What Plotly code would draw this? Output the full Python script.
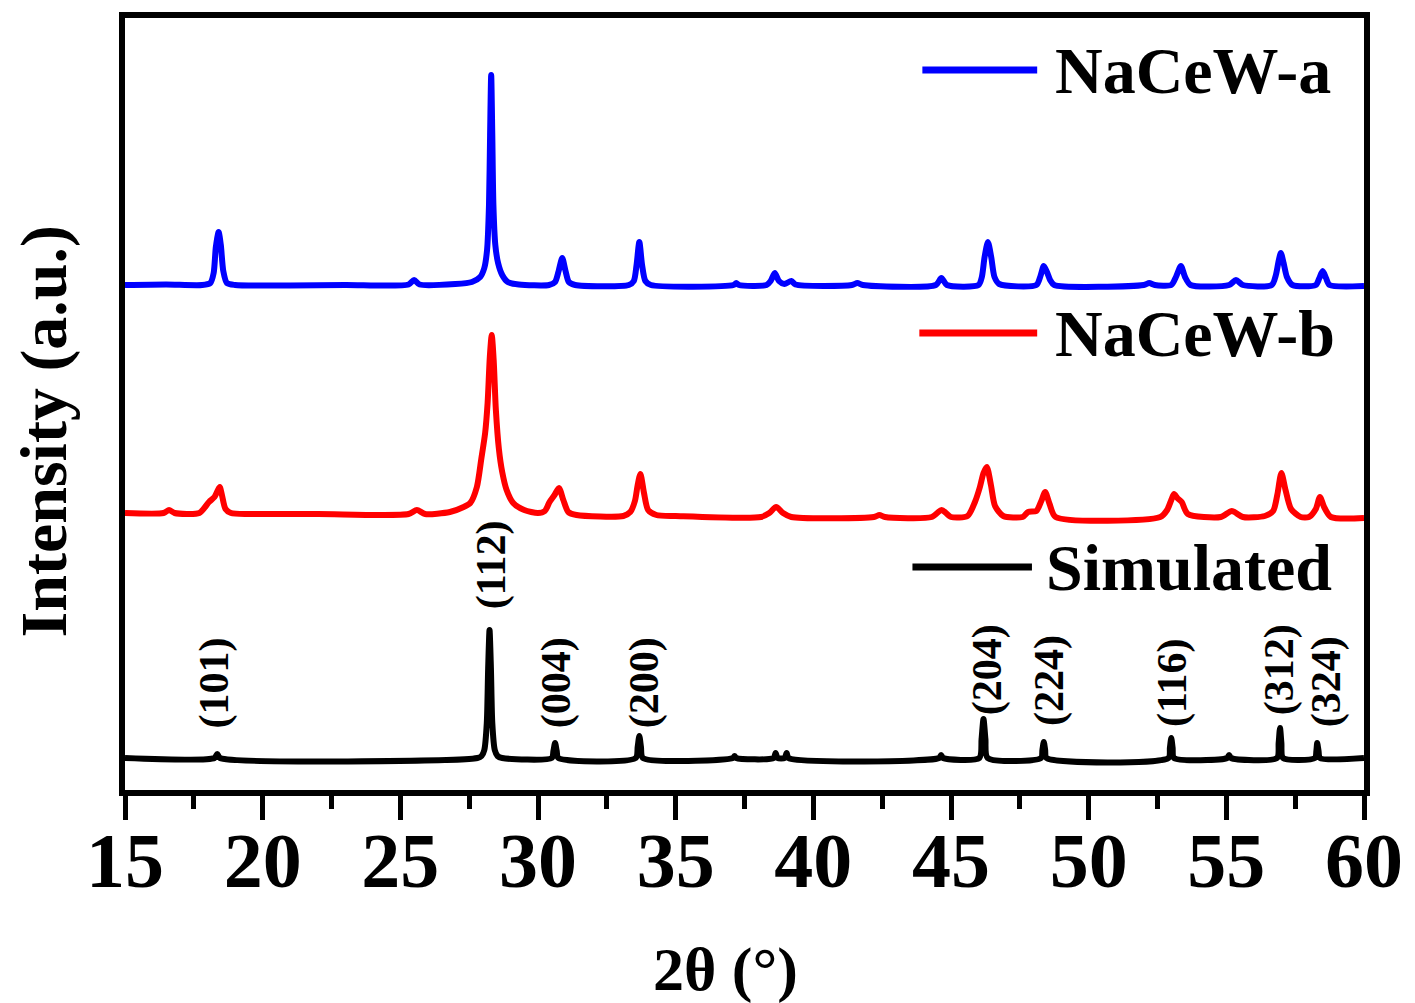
import plotly.graph_objects as go

# ---------------- data ----------------
# 2-theta (deg) and relative intensity (a.u., baseline ~0) for each pattern
blue_2theta = [15.0, 16.5, 17.8, 18.1, 18.22, 18.30, 18.40, 18.48, 18.57, 18.7, 19.0,
               21.0, 23.0, 25.3, 25.5, 25.7, 27.0, 27.6, 27.9, 28.05, 28.15, 28.22,
               28.26, 28.30, 28.34, 28.38, 28.45, 28.55, 28.7, 28.9, 29.3, 30.4,
               30.62, 30.75, 30.88, 31.0, 31.12, 31.35, 33.3, 33.48, 33.58, 33.68,
               33.78, 33.9, 34.1, 37.1, 37.2, 37.3, 38.3, 38.45, 38.6, 38.75, 38.95,
               39.2, 39.35, 41.4, 41.6, 41.8, 44.45, 44.65, 44.85, 46.0, 46.12, 46.22,
               46.34, 46.46, 46.58, 46.75, 48.1, 48.25, 48.37, 48.5, 48.6, 48.75,
               52.0, 52.2, 52.4, 53.0, 53.17, 53.35, 53.5, 53.7, 55.1, 55.35, 55.6,
               56.65, 56.8, 56.9, 56.98, 57.08, 57.2, 57.4, 58.25, 58.38, 58.5,
               58.62, 58.75, 60.0]
blue_int = [0, 0.5, 0, 2, 12, 38, 53, 40, 14, 2, 0,
            -0.5, 0, 0.5, 5, 0.5, 1, 3, 8, 17, 35, 80,
            150, 210, 150, 80, 40, 22, 10, 3, 0.5, 0,
            3, 14, 27, 14, 3, 0, 0, 4, 20, 43,
            20, 4, 0, 0, 2, 0, 0, 4, 12, 4, 1,
            4, 0.5, 0, 2, 0, 0, 7, 0, 0, 8, 28,
            43, 28, 8, 1, 0, 9, 19, 12, 5, 0,
            0, 2, 0, 0, 8, 19, 8, 0, 0, 5, 0,
            0, 10, 24, 32, 22, 8, 0, 0, 7, 14,
            7, 0, -1]

red_2theta = [15.0, 16.4, 16.6, 16.8, 17.7, 18.05, 18.25, 18.36, 18.44, 18.52, 18.65,
              18.85, 19.5, 22.0, 25.3, 25.6, 25.9, 26.8, 27.3, 27.54, 27.78, 27.94,
              28.08, 28.17, 28.25, 28.32, 28.39, 28.47, 28.58, 28.7, 28.86, 29.1,
              29.5, 30.0, 30.25, 30.42, 30.6, 30.76, 30.92, 31.1, 31.4, 33.1, 33.35,
              33.52, 33.62, 33.72, 33.85, 34.0, 34.3, 35.0, 38.1, 38.4, 38.65, 38.9,
              39.2, 42.2, 42.4, 42.6, 44.3, 44.66, 45.0, 45.6, 45.87, 46.05, 46.18,
              46.3, 46.45, 46.6, 46.9, 47.6, 47.8, 48.1, 48.28, 48.42, 48.58, 48.8,
              52.6, 52.85, 53.0, 53.1, 53.22, 53.38, 53.6, 54.8, 55.2, 55.6, 56.4,
              56.7, 56.85, 57.0, 57.15, 57.35, 57.7, 58.0, 58.25, 58.4, 58.55, 58.8,
              60.0]
red_int = [2, 2, 5, 2, 2, 13, 18, 24, 28, 20, 6,
           2, 1, 1, 1, 5, 1, 3, 8, 12, 28, 56,
           82, 112, 158, 180, 155, 105, 66, 43, 25, 12,
           5, 2, 4, 13, 20, 27, 15, 3, 0, -1, 3,
           14, 30, 41, 22, 5, 0, -1, -2, 2, 8, 2,
           -2, -2, 0, -2, -2, 5, -2, -1, 13, 28, 42,
           48, 30, 9, -1, -2, 3, 4, 14, 23, 11, -2,
           -2, 5, 15, 21, 17, 13, 1, -2, 4, -2, -1,
           4, 20, 42, 25, 6, -2, -2, 6, 18, 8, -2,
           -3]

sim_2theta = [15.0, 18.25, 18.35, 18.45, 27.8, 27.95, 28.05, 28.14, 28.19, 28.24, 28.29,
              28.34, 28.43, 28.53, 28.7, 30.5, 30.56, 30.62, 30.68, 30.74, 33.55, 33.62,
              33.68, 33.74, 33.81, 37.08, 37.14, 37.2, 38.56, 38.63, 38.7, 38.96, 39.03,
              39.1, 44.57, 44.64, 44.71, 46.03, 46.11, 46.18, 46.25, 46.33, 48.27, 48.32,
              48.37, 48.42, 48.47, 52.9, 52.95, 53.0, 53.05, 53.1, 55.03, 55.1, 55.17,
              56.84, 56.9, 56.95, 57.0, 57.06, 58.22, 58.27, 58.3, 58.35, 58.4, 60.0]
sim_int = [0, 0, 4, 0, 0, 2, 8, 35, 90, 128, 90,
           35, 8, 2, 0, 0, 7, 15, 7, 0, 0, 11,
           22, 11, 0, 0, 2, 0, 0, 5, 0, 0, 5,
           0, 0, 3, 0, 0, 19, 39, 19, 0, 0, 8,
           16, 8, 0, 0, 10, 20, 10, 0, 0, 3, 0,
           0, 15, 30, 15, 0, 0, 7, 15, 7, 0, 0]

series_names = ["NaCeW-a", "NaCeW-b", "Simulated"]
series_colors = ["#0000FF", "#FF0000", "#000000"]
stack_offsets = [505, 275, 32]   # vertical stacking of the three patterns

# Miller indices of the simulated reflections (label, 2theta, label centre height)
hkl_labels = ["(101)", "(112)", "(004)", "(200)", "(204)", "(224)", "(116)", "(312)", "(324)"]
hkl_2theta = [18.25, 28.3, 30.66, 33.86, 46.32, 48.56, 53.03, 56.92, 58.63]
hkl_height = [107, 225, 107, 107, 120, 109, 107, 120, 108]

# legend placement (2theta start, 2theta end, height) for each series
legend_x0 = [43.96, 43.85, 43.60]
legend_x1 = [48.13, 48.13, 47.94]
legend_tx = [48.72, 48.70, 48.38]
legend_y = [720, 457, 223]

FONT = "Liberation Serif"

fig = go.Figure()
for name, color, off, xs, ys in zip(series_names, series_colors, stack_offsets,
                                    [blue_2theta, red_2theta, sim_2theta],
                                    [blue_int, red_int, sim_int]):
    fig.add_trace(go.Scatter(x=xs, y=[v + off for v in ys], mode="lines", name=name,
                             line=dict(color=color, width=6, shape="spline", smoothing=0.7),
                             showlegend=False))

for lab, x, y in zip(hkl_labels, hkl_2theta, hkl_height):
    fig.add_annotation(x=x, y=y, xref="x", yref="y", text=lab, textangle=-90,
                       showarrow=False, xanchor="center", yanchor="middle",
                       font=dict(family=FONT, size=42, color="black", weight="bold"))

for name, color, x0, x1, tx, y in zip(series_names, series_colors, legend_x0, legend_x1,
                                      legend_tx, legend_y):
    fig.add_shape(type="line", xref="x", yref="y", x0=x0, x1=x1, y0=y, y1=y,
                  line=dict(color=color, width=7))
    fig.add_annotation(x=tx, y=y, xref="x", yref="y", text=name, showarrow=False,
                       xanchor="left", yanchor="middle",
                       font=dict(family=FONT, size=66, color="black", weight="bold"))

fig.add_annotation(xref="paper", yref="paper", x=-0.065, y=0.465, text="Intensity (a.u.)",
                   textangle=-90, showarrow=False, xanchor="center", yanchor="middle",
                   font=dict(family=FONT, size=66, color="black", weight="bold"))
fig.add_annotation(xref="x", yref="paper", x=36.8, y=-0.232, text="2θ (°)",
                   showarrow=False, xanchor="center", yanchor="middle",
                   font=dict(family=FONT, size=62, color="black", weight="bold"))

fig.update_xaxes(range=[15, 60], tick0=15, dtick=5, ticks="outside", ticklen=24,
                 tickwidth=5, tickcolor="black", showline=True, linewidth=6,
                 linecolor="black", mirror=True, showgrid=False, zeroline=False,
                 ticklabelstandoff=-27,
                 tickfont=dict(family=FONT, size=78, color="black", weight="bold"),
                 minor=dict(tick0=15, dtick=2.5, ticks="outside", ticklen=13,
                            tickwidth=5, tickcolor="black", showgrid=False))
fig.update_yaxes(range=[0, 772], showticklabels=False, ticks="", showline=True,
                 linewidth=6, linecolor="black", mirror=True, showgrid=False,
                 zeroline=False)

fig.update_layout(width=1415, height=1003, margin=dict(l=125, r=47, t=18, b=213),
                  plot_bgcolor="white", paper_bgcolor="white", showlegend=False)

fig.write_html("out.html", config={"displayModeBar": False},
               post_script="document.body.style.margin='0';document.body.style.padding='0';")
